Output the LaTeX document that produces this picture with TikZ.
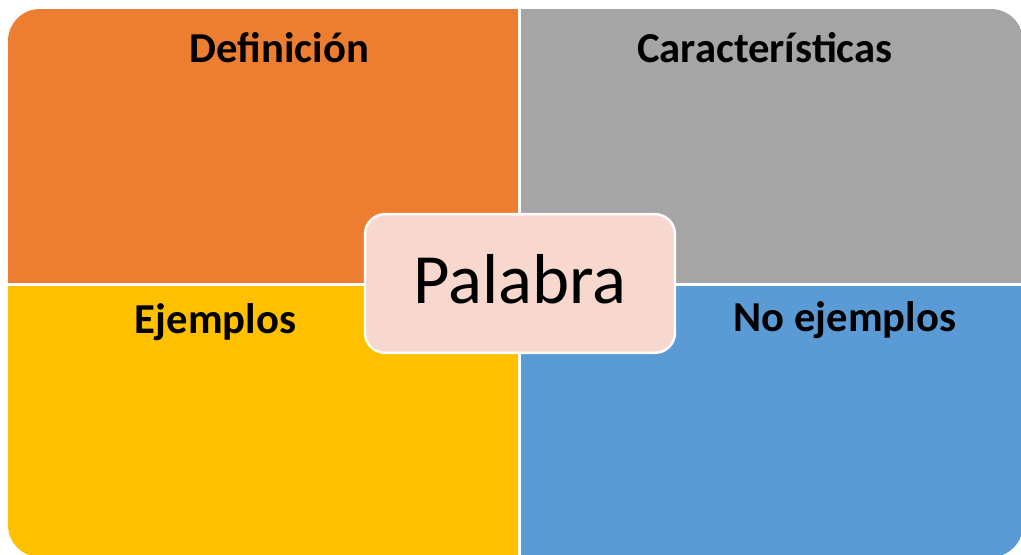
\documentclass[tikz,border=0pt]{standalone}
\usepackage{fontspec}
\setmainfont{Carlito}
\definecolor{qorange}{HTML}{ED7D31}
\definecolor{qgray}{HTML}{A5A5A5}
\definecolor{qyellow}{HTML}{FFC000}
\definecolor{qblue}{HTML}{5B9BD5}
\definecolor{qpink}{HTML}{F8D8CE}
\begin{document}
\begin{tikzpicture}[x=0.75pt,y=-0.75pt,
  quad/.style={draw=none,inner sep=0pt,anchor=north west},
  title/.style={anchor=base,inner sep=0pt,font=\fontsize{32}{38}\selectfont\bfseries},
  center/.style={draw=white,line width=1.8pt,fill=qpink,rounded corners=15pt,inner sep=0pt,
     minimum width=232.5pt,minimum height=104pt}]
\useasboundingbox (0,0) rectangle (1021,554);
\begin{scope}
  \clip[rounded corners=24pt] (8,9) rectangle (1023,557);
  \node[quad,fill=qorange,minimum width=382.5pt,minimum height=205.5pt] (q1) at (8,9) {};
  \node[quad,fill=qgray,minimum width=376pt,minimum height=205.5pt] (q2) at (520.5,9) {};
  \node[quad,fill=qyellow,minimum width=382.5pt,minimum height=205pt] (q3) at (8,285.5) {};
  \node[quad,fill=qblue,minimum width=376pt,minimum height=205pt] (q4) at (520.5,285.5) {};
\end{scope}
\node[title] (t1) at (279.5,62) {Definición};
\node[title] (t2) at (765,62) {Características};
\node[title] (t3) at (215.5,333) {Ejemplos};
\node[title] (t4) at (845,331) {No ejemplos};
\node[center] (c) at (520,283.5) {};
\node[anchor=base,inner sep=0pt,font=\fontsize{53}{60}\selectfont] (w) at (520,303) {Palabra};
\end{tikzpicture}
\end{document}
